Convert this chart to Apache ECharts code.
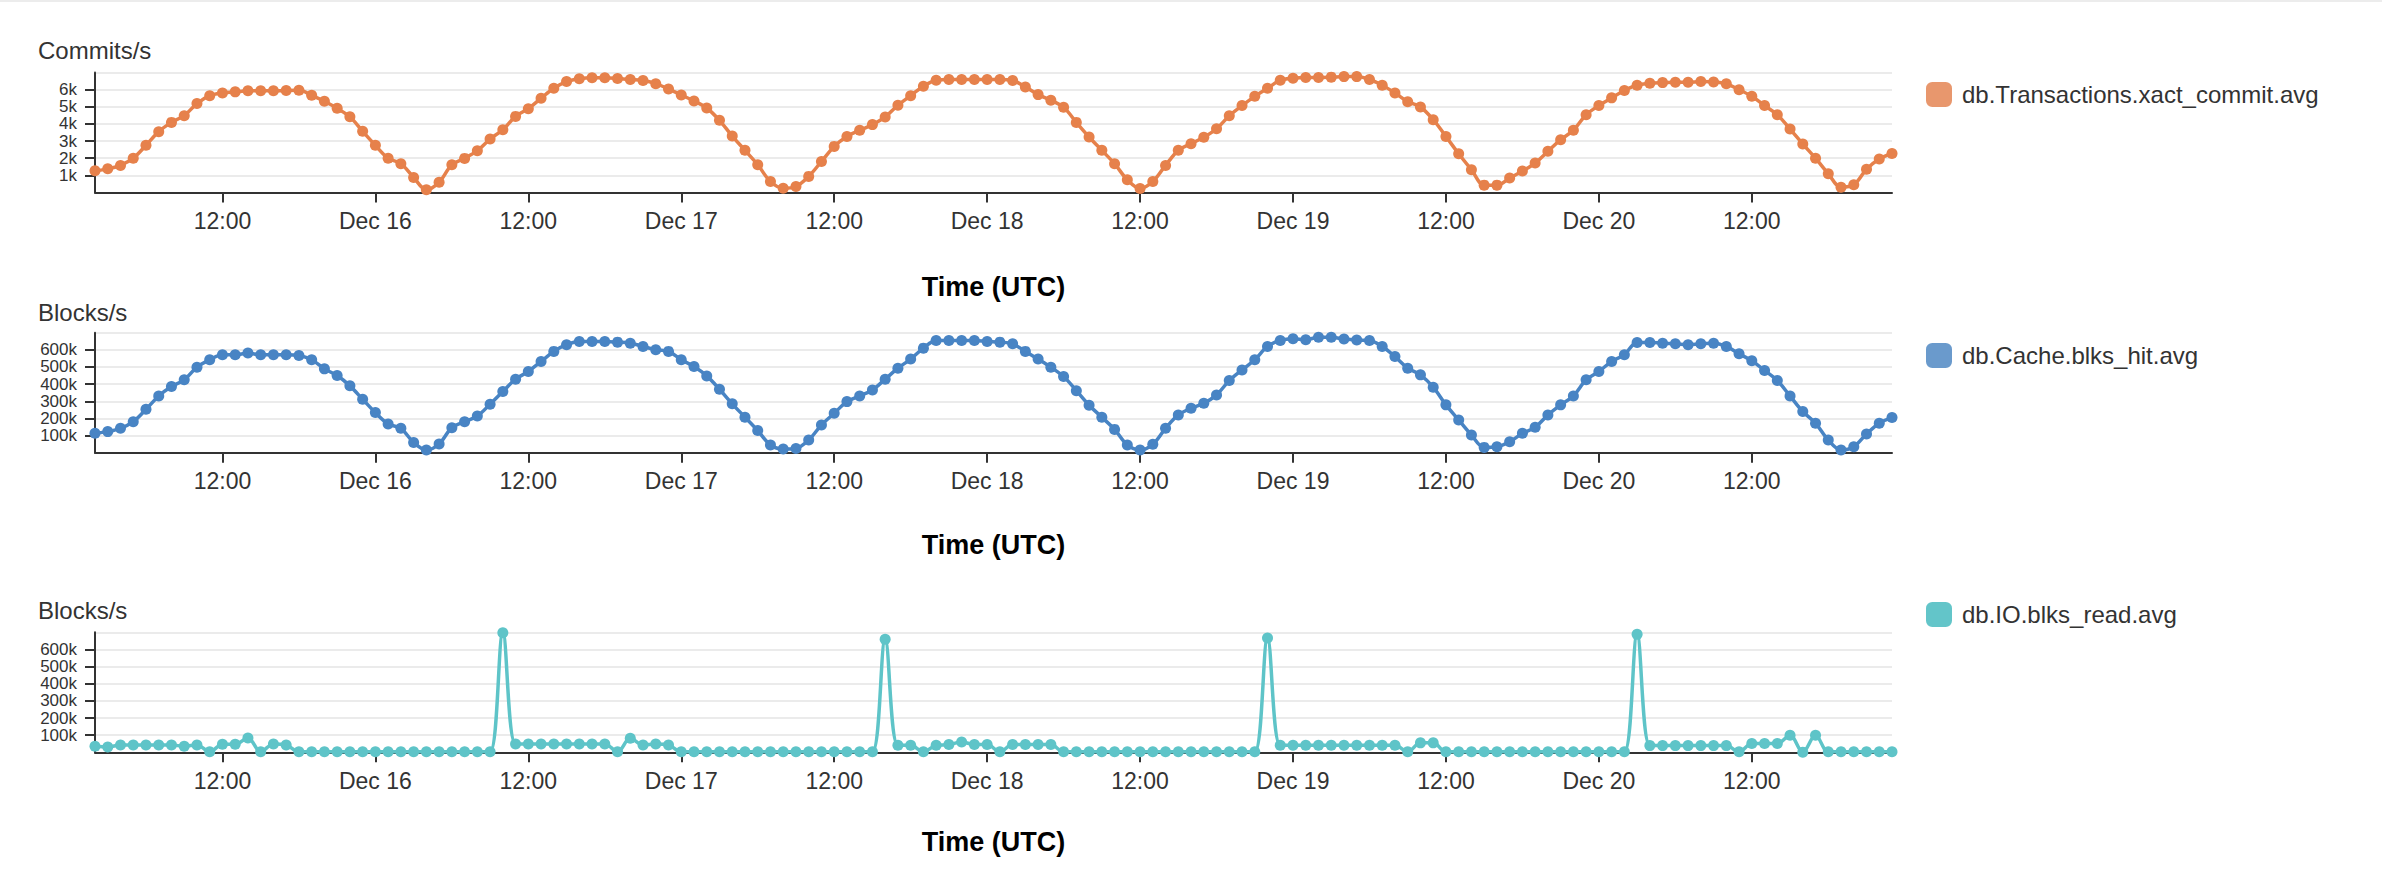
<!DOCTYPE html>
<html>
<head>
<meta charset="utf-8">
<script src="https://cdn.jsdelivr.net/npm/echarts@6/dist/echarts.min.js"></script>
<style>
html,body{margin:0;padding:0;background:#fff;}
#c{width:2382px;height:880px;}
</style>
</head>
<body>
<div id="c"></div>
<script>
// ---------- DATA ----------
const startTime = Date.UTC(2023, 11, 15, 2, 0, 0); // first hourly sample: Dec 15 02:00 UTC
const stepMs = 3600 * 1000;                         // one sample per hour

const commits = [
  1270,1380,1580,2000,2750,3550,4090,4480,5190,5650,5810,5870,5930,5930,5930,5950,5960,5670,5320,4910,
  4420,3570,2750,2000,1680,880,160,600,1620,1990,2440,3120,3660,4440,4890,5500,6080,6470,6630,6690,
  6690,6650,6590,6530,6350,6040,5690,5340,4930,4210,3290,2460,1620,640,250,350,940,1810,2690,3270,
  3630,3960,4410,5090,5650,6200,6550,6590,6590,6590,6590,6590,6530,6160,5710,5380,4970,4090,3240,2460,
  1680,740,230,640,1580,2460,2850,3220,3720,4480,5070,5610,6080,6550,6670,6710,6710,6730,6760,6760,
  6590,6260,5810,5300,4990,4250,3270,2260,1330,430,430,840,1250,1720,2400,3080,3630,4540,5070,5520,
  5950,6260,6370,6410,6430,6430,6470,6450,6340,6000,5610,5070,4540,3700,2830,2000,1090,310,450,1360,
  1950,2280
];

const blksHit = [
  113000,123000,142000,181000,253000,331000,386000,425000,499000,542000,571000,571000,581000,571000,571000,571000,567000,542000,489000,450000,
  390000,312000,234000,168000,142000,60000,16000,51000,146000,181000,214000,283000,357000,429000,474000,532000,591000,630000,649000,649000,
  649000,645000,639000,620000,600000,591000,542000,503000,448000,370000,285000,207000,129000,45000,21000,25000,74000,162000,230000,298000,
  331000,366000,429000,493000,546000,610000,655000,655000,655000,655000,649000,645000,635000,591000,546000,499000,444000,362000,277000,207000,
  136000,45000,16000,49000,142000,220000,259000,288000,337000,421000,483000,542000,620000,655000,665000,659000,673000,673000,663000,657000,
  655000,620000,561000,493000,454000,382000,279000,191000,103000,31000,35000,64000,113000,148000,220000,279000,331000,425000,474000,532000,
  571000,643000,643000,639000,635000,630000,635000,639000,620000,577000,536000,480000,421000,331000,240000,172000,74000,16000,35000,109000,
  172000,205000
];

const blksRead = [
  35000,31000,43000,43000,43000,43000,43000,35000,43000,3000,47000,47000,84000,3000,49000,43000,3000,3000,3000,3000,
  3000,3000,3000,3000,3000,3000,3000,3000,3000,3000,3000,3000,698000,49000,49000,49000,49000,49000,49000,49000,
  49000,3000,82000,43000,49000,43000,3000,3000,3000,3000,3000,3000,3000,3000,3000,3000,3000,3000,3000,3000,
  3000,3000,659000,41000,41000,3000,41000,45000,60000,45000,45000,3000,45000,45000,45000,45000,3000,3000,3000,3000,
  3000,3000,3000,3000,3000,3000,3000,3000,3000,3000,3000,3000,667000,41000,41000,41000,41000,41000,41000,41000,
  41000,41000,41000,3000,55000,55000,3000,3000,3000,3000,3000,3000,3000,3000,3000,3000,3000,3000,3000,3000,
  3000,688000,39000,39000,39000,39000,39000,39000,39000,3000,51000,51000,51000,99000,1000,99000,3000,3000,3000,3000,
  3000,3000
];

const xTickTimes = [
  '2023-12-15T12:00:00Z','2023-12-16T00:00:00Z','2023-12-16T12:00:00Z','2023-12-17T00:00:00Z',
  '2023-12-17T12:00:00Z','2023-12-18T00:00:00Z','2023-12-18T12:00:00Z','2023-12-19T00:00:00Z',
  '2023-12-19T12:00:00Z','2023-12-20T00:00:00Z','2023-12-20T12:00:00Z'
];
const xTickLabels = ['12:00','Dec 16','12:00','Dec 17','12:00','Dec 18','12:00','Dec 19','12:00','Dec 20','12:00'];

const yTicksCommits = [1000,2000,3000,4000,5000,6000];
const yLabelsCommits = ['1k','2k','3k','4k','5k','6k'];
const yTicksBlocks = [100000,200000,300000,400000,500000,600000];
const yLabelsBlocks = ['100k','200k','300k','400k','500k','600k'];

const yTitles = ['Commits/s','Blocks/s','Blocks/s'];
const seriesNames = ['db.Transactions.xact_commit.avg','db.Cache.blks_hit.avg','db.IO.blks_read.avg'];
const xAxisTitle = 'Time (UTC)';

// ---------- CHART ----------
const FONT = '"Liberation Sans", Arial, Helvetica, sans-serif';
const xTickValues = xTickTimes.map(t => Date.parse(t));
const toPairs = vals => vals.map((v, i) => [startTime + i * stepMs, v]);

const panels = [
  {values: commits, max: 7000, ticks: yTicksCommits, labels: yLabelsCommits,
   line: '#e6814b', swatch: '#e8976d', top: 72.5, legendTop: 82, titleY: 50, xNameY: 287},
  {values: blksHit, max: 700000, ticks: yTicksBlocks, labels: yLabelsBlocks,
   line: '#4884c4', swatch: '#6a9acc', top: 332.7, legendTop: 343, titleY: 312, xNameY: 545},
  {values: blksRead, max: 700000, ticks: yTicksBlocks, labels: yLabelsBlocks,
   line: '#5ec4c8', swatch: '#63c5c9', top: 632.3, legendTop: 602, titleY: 610, xNameY: 842}
];

const GRID_LEFT = 95, GRID_RIGHT_X = 1892, GRID_H = 120;
const axisLineStyle = {color: '#333', width: 2};
const gridLineStyle = {color: '#ebebeb', width: 2};

const option = {
  animation: false,
  backgroundColor: '#fff',
  grid: [], xAxis: [], yAxis: [], series: [], legend: [], graphic: []
};

option.graphic.push({type: 'rect', shape: {x: 0, y: 0, width: 2382, height: 2}, style: {fill: '#ececec'}, silent: true});

panels.forEach((p, i) => {
  option.grid.push({left: GRID_LEFT, top: p.top, width: GRID_RIGHT_X - GRID_LEFT, height: GRID_H, containLabel: false});
  option.xAxis.push({
    type: 'value', gridIndex: i,
    min: startTime, max: startTime + (p.values.length - 1) * stepMs,
    axisLine: {show: true, onZero: false, lineStyle: axisLineStyle},
    axisTick: {show: true, customValues: xTickValues, length: 10, lineStyle: axisLineStyle},
    axisLabel: {show: true, customValues: xTickValues, hideOverlap: false, interval: 0,
      showMinLabel: true, showMaxLabel: true,
      formatter: v => xTickLabels[xTickValues.indexOf(v)] || '',
      fontSize: 23, color: '#333', fontFamily: FONT, margin: 17},
    splitLine: {show: false}
  });
  // main y axis with ticks and labels
  option.yAxis.push({
    type: 'value', gridIndex: i, min: 0, max: p.max, interval: p.max / 7,
    axisLine: {show: true, lineStyle: axisLineStyle},
    axisTick: {show: true, customValues: p.ticks, length: 10, lineStyle: axisLineStyle},
    axisLabel: {show: true, customValues: p.ticks, hideOverlap: false, interval: 0,
      showMinLabel: true, showMaxLabel: true,
      formatter: v => p.labels[p.ticks.indexOf(v)] || '',
      fontSize: 17, lineHeight: 17, color: '#333', fontFamily: FONT, margin: 18},
    splitLine: {show: true, lineStyle: gridLineStyle}
  });
  // helper y axis: only gridlines at bottom/top of domain
  option.yAxis.push({
    type: 'value', gridIndex: i, min: 0, max: p.max, interval: p.max,
    axisLine: {show: false}, axisTick: {show: false}, axisLabel: {show: false},
    splitLine: {show: true, lineStyle: gridLineStyle}
  });
  option.series.push({
    name: seriesNames[i], type: 'line',
    xAxisIndex: i, yAxisIndex: i * 2,
    data: toPairs(p.values),
    smooth: 0.35,
    symbol: 'circle', symbolSize: 11, showSymbol: true,
    lineStyle: {width: 3.5, color: p.line},
    itemStyle: {color: p.line, borderWidth: 0},
    emphasis: {disabled: true},
    z: 3
  });
  option.legend.push({
    left: 1926, top: p.legendTop, padding: 0, orient: 'vertical',
    icon: 'roundRect', itemWidth: 26, itemHeight: 25, selectedMode: false,
    data: [{name: seriesNames[i], itemStyle: {color: p.swatch, borderWidth: 0}}],
    textStyle: {fontSize: 24, color: '#333', fontFamily: FONT, padding: [0, 0, 0, 5]}
  });
  option.graphic.push({
    type: 'text', x: 38, y: p.titleY, silent: true,
    style: {text: yTitles[i], fontSize: 24, fontFamily: FONT, fill: '#333', align: 'left', verticalAlign: 'middle'}
  });
  option.graphic.push({
    type: 'text', x: (GRID_LEFT + GRID_RIGHT_X) / 2, y: p.xNameY, silent: true,
    style: {text: xAxisTitle, fontSize: 27, fontWeight: 'bold', fontFamily: FONT, fill: '#000', align: 'center', verticalAlign: 'middle'}
  });
});

const chart = echarts.init(document.getElementById('c'), null, {renderer: 'svg', width: 2382, height: 880});
chart.setOption(option);
</script>
</body>
</html>
